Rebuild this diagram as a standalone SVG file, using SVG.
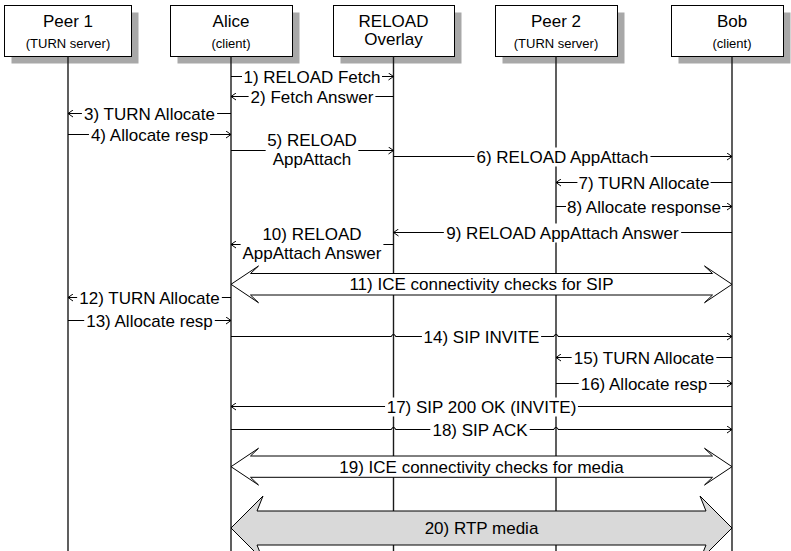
<svg xmlns="http://www.w3.org/2000/svg" width="791" height="551" viewBox="0 0 791 551">
  <style>
    text { font-family: "Liberation Sans", Arial, Helvetica, sans-serif; fill: #000; }
    .name { font-size: 17px; text-anchor: middle; }
    .sub { font-size: 13px; text-anchor: middle; }
    .lbl { font-size: 17px; text-anchor: middle; }
    .box { fill: #fff; stroke: #000; stroke-width: 1; }
    .shadow { fill: #a8a8a8; stroke: none; }
    .life { stroke: #1a1a1a; stroke-width: 1.4; fill: none; }
    .msg { stroke: #000; stroke-width: 1; fill: none; marker-end: url(#open); }
    .bg { fill: #fff; stroke: none; }
    .fat { fill: #fff; stroke: #000; stroke-width: 1; stroke-linejoin: miter; }
    .media { fill: #d9d9d9; stroke: #000; stroke-width: 1; stroke-linejoin: miter; }
  </style>
  <defs>
    <marker id="open" viewBox="0 0 6 8" refX="5.5" refY="4" markerWidth="6" markerHeight="8" markerUnits="userSpaceOnUse" orient="auto">
      <path d="M0.5 0.5 L5.5 4 L0.5 7.5" fill="none" stroke="#000" stroke-width="1"/>
    </marker>
  </defs>
  <rect width="791" height="551" fill="#fff"/>

  <!-- participants: header box with drop shadow and lifeline -->
  <g id="peer1">
    <rect class="shadow" x="11.5" y="12.5" width="127" height="51"/>
    <rect class="box" x="4.5" y="5.5" width="127" height="51"/>
    <text class="name" x="68" y="26.5">Peer 1</text>
    <text class="sub" x="68" y="48">(TURN server)</text>
    <line class="life" x1="68" y1="56.5" x2="68" y2="551"/>
  </g>
  <g id="alice">
    <rect class="shadow" x="177.5" y="12.5" width="122" height="51"/>
    <rect class="box" x="170.5" y="5.5" width="122" height="51"/>
    <text class="name" x="231" y="26.5">Alice</text>
    <text class="sub" x="231" y="48">(client)</text>
    <line class="life" x1="231" y1="56.5" x2="231" y2="551"/>
  </g>
  <g id="overlay">
    <rect class="shadow" x="340.5" y="12.5" width="121" height="51"/>
    <rect class="box" x="333.5" y="5.5" width="121" height="51"/>
    <text class="name" x="393.5" y="26.5">RELOAD</text>
    <text class="name" x="393.5" y="45">Overlay</text>
    <line class="life" x1="393.5" y1="56.5" x2="393.5" y2="551"/>
  </g>
  <g id="peer2">
    <rect class="shadow" x="502.5" y="12.5" width="122" height="51"/>
    <rect class="box" x="495.5" y="5.5" width="122" height="51"/>
    <text class="name" x="556" y="26.5">Peer 2</text>
    <text class="sub" x="556" y="48">(TURN server)</text>
    <line class="life" x1="556" y1="56.5" x2="556" y2="551"/>
  </g>
  <g id="bob">
    <rect class="shadow" x="678.5" y="12.5" width="112" height="51"/>
    <rect class="box" x="671.5" y="5.5" width="112" height="51"/>
    <text class="name" x="732" y="26.5">Bob</text>
    <text class="sub" x="732" y="48">(client)</text>
    <line class="life" x1="732" y1="56.5" x2="732" y2="551"/>
  </g>

  <!-- message flow -->
  <g id="connectors">
    <!-- 1 -->
    <line class="msg" x1="231" y1="76.5" x2="393.5" y2="76.5"/>
    <rect class="bg" x="242" y="67.5" width="140" height="19"/>
    <text class="lbl" x="312" y="82.5">1) RELOAD Fetch</text>
    <!-- 2 -->
    <line class="msg" x1="393.5" y1="96.5" x2="231" y2="96.5"/>
    <rect class="bg" x="248.6" y="87.5" width="126.8" height="19"/>
    <text class="lbl" x="312" y="102.5">2) Fetch Answer</text>
    <!-- 3 -->
    <line class="msg" x1="231" y1="113.5" x2="68" y2="113.5"/>
    <rect class="bg" x="81.9" y="104.5" width="135.2" height="19"/>
    <text class="lbl" x="149.5" y="119.5">3) TURN Allocate</text>
    <!-- 4 -->
    <line class="msg" x1="68" y1="134.5" x2="231" y2="134.5"/>
    <rect class="bg" x="88.95" y="125.5" width="121.1" height="19"/>
    <text class="lbl" x="149.5" y="140.5">4) Allocate resp</text>
    <!-- 5 -->
    <line class="msg" x1="231" y1="150.5" x2="393.5" y2="150.5"/>
    <rect class="bg" x="265.65" y="131" width="92.7" height="38"/>
    <text class="lbl" x="312" y="146">5) RELOAD</text>
    <text class="lbl" x="312" y="165">AppAttach</text>
    <!-- 6 -->
    <line class="msg" x1="393.5" y1="156.5" x2="732" y2="156.5"/>
    <rect class="bg" x="474.55" y="147.5" width="175.9" height="19"/>
    <text class="lbl" x="562.5" y="162.5">6) RELOAD AppAttach</text>
    <!-- 7 -->
    <line class="msg" x1="732" y1="182.5" x2="556" y2="182.5"/>
    <rect class="bg" x="577.4" y="173.5" width="133.2" height="19"/>
    <text class="lbl" x="644" y="188.5">7) TURN Allocate</text>
    <!-- 8 -->
    <line class="msg" x1="556" y1="206.5" x2="732" y2="206.5"/>
    <rect class="bg" x="566" y="197.5" width="156" height="19"/>
    <text class="lbl" x="644" y="212.5">8) Allocate response</text>
    <!-- 9 -->
    <line class="msg" x1="732" y1="232.5" x2="393.5" y2="232.5"/>
    <rect class="bg" x="443.85" y="223.5" width="237.3" height="19"/>
    <text class="lbl" x="562.5" y="238.5">9) RELOAD AppAttach Answer</text>
    <!-- 10 -->
    <line class="msg" x1="393.5" y1="244.5" x2="231" y2="244.5"/>
    <rect class="bg" x="240.6" y="225" width="142.8" height="38"/>
    <text class="lbl" x="312" y="240">10) RELOAD</text>
    <text class="lbl" x="312" y="259">AppAttach Answer</text>
    <!-- 11 -->
    <polygon class="fat" points="250.5,273.5 258.5,266 231,284.3 258.5,302.7 250.5,295 712.5,295 704.5,302.7 732,284.3 704.5,266 712.5,273.5"/>
    <text class="lbl" x="481.5" y="290.3">11) ICE connectivity checks for SIP</text>
    <!-- 12 -->
    <line class="msg" x1="231" y1="297.5" x2="68" y2="297.5"/>
    <rect class="bg" x="77.15" y="288.5" width="144.7" height="19"/>
    <text class="lbl" x="149.5" y="303.5">12) TURN Allocate</text>
    <!-- 13 -->
    <line class="msg" x1="68" y1="320.5" x2="231" y2="320.5"/>
    <rect class="bg" x="84.2" y="311.5" width="130.6" height="19"/>
    <text class="lbl" x="149.5" y="326.5">13) Allocate resp</text>
    <!-- 14 -->
    <path class="msg" d="M231 336.5 H391.5 A2 2 0 0 1 395.5 336.5 H554 A2 2 0 0 1 558 336.5 H732"/>
    <rect class="bg" x="421.9" y="327.5" width="119.2" height="19"/>
    <text class="lbl" x="481.5" y="342.5">14) SIP INVITE</text>
    <!-- 15 -->
    <line class="msg" x1="732" y1="357.5" x2="556" y2="357.5"/>
    <rect class="bg" x="571.65" y="348.5" width="144.7" height="19"/>
    <text class="lbl" x="644" y="363.5">15) TURN Allocate</text>
    <!-- 16 -->
    <line class="msg" x1="556" y1="383.5" x2="732" y2="383.5"/>
    <rect class="bg" x="578.7" y="374.5" width="130.6" height="19"/>
    <text class="lbl" x="644" y="389.5">16) Allocate resp</text>
    <!-- 17 -->
    <line class="msg" x1="732" y1="406.5" x2="231" y2="406.5"/>
    <rect class="bg" x="385.05" y="397.5" width="192.9" height="19"/>
    <text class="lbl" x="481.5" y="412.5">17) SIP 200 OK (INVITE)</text>
    <!-- 18 -->
    <path class="msg" d="M231 429.5 H391.5 A2 2 0 0 1 395.5 429.5 H554 A2 2 0 0 1 558 429.5 H732"/>
    <rect class="bg" x="430.3" y="420.5" width="99.4" height="19"/>
    <text class="lbl" x="480" y="435.5">18) SIP ACK</text>
    <!-- 19 -->
    <polygon class="fat" points="250.5,456 258.5,448.3 231,466.7 258.5,485 250.5,477.3 712.5,477.3 704.5,485 732,466.7 704.5,448.3 712.5,456"/>
    <text class="lbl" x="481.5" y="472.7">19) ICE connectivity checks for media</text>
    <!-- 20 -->
    <polygon class="media" points="257,511 263,496 231,528 263,560 257,545 706,545 700,560 732,528 700,496 706,511"/>
    <text class="lbl" x="481.5" y="534">20) RTP media</text>
  </g>
</svg>
